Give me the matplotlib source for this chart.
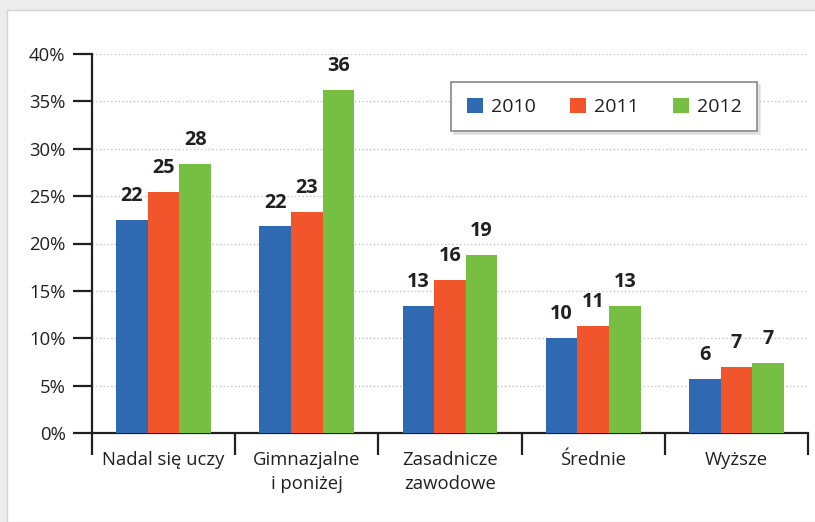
import matplotlib
matplotlib.use("Agg")
import matplotlib.pyplot as plt
import numpy as np
from matplotlib.patches import Rectangle

plt.rcParams['font.family'] = ['Open Sans', 'DejaVu Sans']

categories = ['Nadal się uczy', 'Gimnazjalne\ni poniżej', 'Zasadnicze\nzawodowe', 'Średnie', 'Wyższe']
years = ['2010', '2011', '2012']
v2010 = [22.5, 21.8, 13.4, 10.0, 5.7]
v2011 = [25.4, 23.3, 16.2, 11.3, 7.0]
v2012 = [28.4, 36.2, 18.8, 13.4, 7.4]
colors = ['#2e69b2', '#f0552c', '#77bf43']
txt = '#231f20'

fig = plt.figure(figsize=(8.15, 5.22), dpi=100, facecolor='#ececec')
# white panel
fig.patches.append(Rectangle((7/815, 0), 1, (522-10)/522, transform=fig.transFigure,
                             facecolor='white', edgecolor='#d4d4d4', linewidth=1, zorder=-5))

ax = fig.add_axes([92/815, 89/522, 716/815, 379/522])
ax.set_facecolor('none')

x = np.arange(len(categories))
w = 0.221
for i, (vals, c, yr) in enumerate(zip([v2010, v2011, v2012], colors, years)):
    bars = ax.bar(x + (i-1)*w, vals, w, color=c, label=yr, zorder=3)
    ax.bar_label(bars, labels=[str(int(round(v))) for v in vals], padding=10,
                 fontsize=14.3, fontweight='bold', color=txt)

ax.set_xlim(-0.5, 4.5)
ax.set_ylim(0, 40)
ax.set_yticks(range(0, 41, 5))
ax.set_yticklabels([f'{t}%' for t in range(0, 41, 5)], fontsize=13.3, color=txt)
ax.set_xticks(x)
ax.set_xticklabels(categories, fontsize=13.3, color=txt, linespacing=1.4)
ax.set_xticks(np.arange(-0.5, 5, 1), minor=True)
ax.tick_params(axis='x', which='major', length=0, pad=13)
ax.tick_params(axis='x', which='minor', length=16, width=1.6, color=txt, direction='out')
ax.tick_params(axis='y', length=14, width=1.6, color=txt, direction='out', pad=5)

for s in ['top', 'right']:
    ax.spines[s].set_visible(False)
for s in ['left', 'bottom']:
    ax.spines[s].set_linewidth(1.6)
    ax.spines[s].set_color(txt)

ax.yaxis.grid(True, linestyle=(0, (1, 2)), color='#bdbdbd', linewidth=0.9, zorder=0)
ax.set_axisbelow(True)

leg = ax.legend(loc='upper right', bbox_to_anchor=(0.929, 0.926), ncol=3, fontsize=14,
                frameon=True, fancybox=False, shadow={'color': '#cccccc', 'alpha': 0.5},
                edgecolor='#888888', handlelength=0.82, handleheight=0.82,
                columnspacing=1.75, borderpad=0.8, handletextpad=0.42, borderaxespad=0)
leg.get_frame().set_linewidth(1.2)
for t in leg.get_texts():
    t.set_color(txt)

fig.savefig('out.png', dpi=100, facecolor=fig.get_facecolor())
